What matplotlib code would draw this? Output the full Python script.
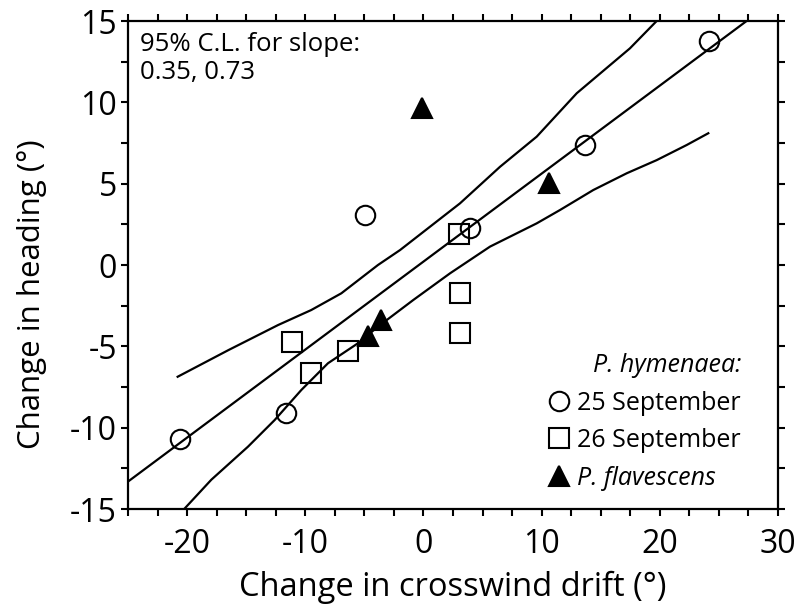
import numpy as np
import matplotlib
matplotlib.use('Agg')
import matplotlib.pyplot as plt
from matplotlib.lines import Line2D
from matplotlib.ticker import MultipleLocator

# P. hymenaea, 25 September
sep25_x = [-20.6, -11.6, -4.95, 3.9, 13.7, 24.2]
sep25_y = [-10.7, -9.1, 3.07, 2.29, 7.38, 13.77]

# P. hymenaea, 26 September
sep26_x = [3.0, 3.1, 3.1, -11.1, -9.5, -6.4]
sep26_y = [1.89, -1.72, -4.2, -4.71, -6.66, -5.29]

# P. flavescens
flav_x = [-0.1, 10.6, -3.6, -4.7]
flav_y = [9.63, 5.06, -3.38, -4.36]

# regression line and 95% confidence band
fit_slope = 0.541
fit_intercept = 0.21

upper_x = [-20.8, -16.5, -12.3, -9.5, -6.95, -3.85, -1.98, 3.09, 6.48, 9.58, 12.97, 17.47, 19.73, 20.5]
upper_y = [-6.87, -5.23, -3.69, -2.77, -1.74, 0.0, 0.92, 3.79, 6.04, 7.89, 10.56, 13.32, 15.0, 15.5]

lower_x = [-20.5, -17.95, -14.85, -12.59, -10.33, -8.08, -5.54, -3.85, -0.86, 2.25, 5.63, 9.58, 11.55, 14.37, 17.2, 19.74, 22.28, 24.1]
lower_y = [-15.2, -13.2, -11.17, -9.53, -7.68, -6.04, -4.81, -3.79, -2.15, -0.51, 1.13, 2.56, 3.38, 4.61, 5.64, 6.45, 7.38, 8.1]

plt.rcParams['font.family'] = ['Open Sans', 'DejaVu Sans']
plt.rcParams['axes.unicode_minus'] = False

fig = plt.figure(figsize=(8.04, 6.09), dpi=100)
ax = fig.add_axes([0.1592, 0.1642, 0.8085, 0.8013])

lw = 1.6
ax.axline((0, fit_intercept), slope=fit_slope, color='black', lw=lw)
ax.plot(upper_x, upper_y, color='black', lw=lw)
ax.plot(lower_x, lower_y, color='black', lw=lw)

mk = dict(linestyle='none', markersize=14, markeredgewidth=1.5, markeredgecolor='black')
ax.plot(sep25_x, sep25_y, marker='o', markerfacecolor='none', **mk)
ax.plot(sep26_x, sep26_y, marker='s', markerfacecolor='none', **mk)
ax.plot(flav_x, flav_y, marker='^', markerfacecolor='black', **mk)

ax.set_xlim(-25, 30)
ax.set_ylim(-15, 15)
ax.xaxis.set_major_locator(MultipleLocator(10))
ax.xaxis.set_minor_locator(MultipleLocator(2.5))
ax.yaxis.set_major_locator(MultipleLocator(5))
ax.yaxis.set_minor_locator(MultipleLocator(2.5))
ax.tick_params(which='both', direction='out', length=5, width=1.5,
               top=True, right=True, labelsize=23, color='black')
ax.tick_params(axis='x', pad=9)
ax.tick_params(axis='y', pad=3)
for s in ax.spines.values():
    s.set_linewidth(1.6)

ax.set_xlabel("Change in crosswind drift (°)", fontsize=23.5, labelpad=7)
ax.set_ylabel("Change in heading (°)", fontsize=22.5)
ax.yaxis.set_label_coords(-0.125, 0.44)

ax.text(0.018, 0.977, "95% C.L. for slope:\n0.35, 0.73", transform=ax.transAxes,
        ha='left', va='top', fontsize=18.5, linespacing=1.12)

handles = [
    Line2D([], [], marker='o', markerfacecolor='none', **mk),
    Line2D([], [], marker='s', markerfacecolor='none', **mk),
    Line2D([], [], marker='^', markerfacecolor='black', **mk),
]
leg = ax.legend(handles, ["25 September", "26 September", "P. flavescens"],
                loc='lower right', bbox_to_anchor=(0.97, 0.002), frameon=False,
                fontsize=18, handlelength=0.8, handletextpad=0.35,
                labelspacing=0.5, title="P. hymenaea:", title_fontsize=18,
                alignment='right', borderaxespad=0.3)
leg.get_title().set_style('italic')
leg.get_texts()[2].set_style('italic')

fig.savefig("out.png", dpi=100)
